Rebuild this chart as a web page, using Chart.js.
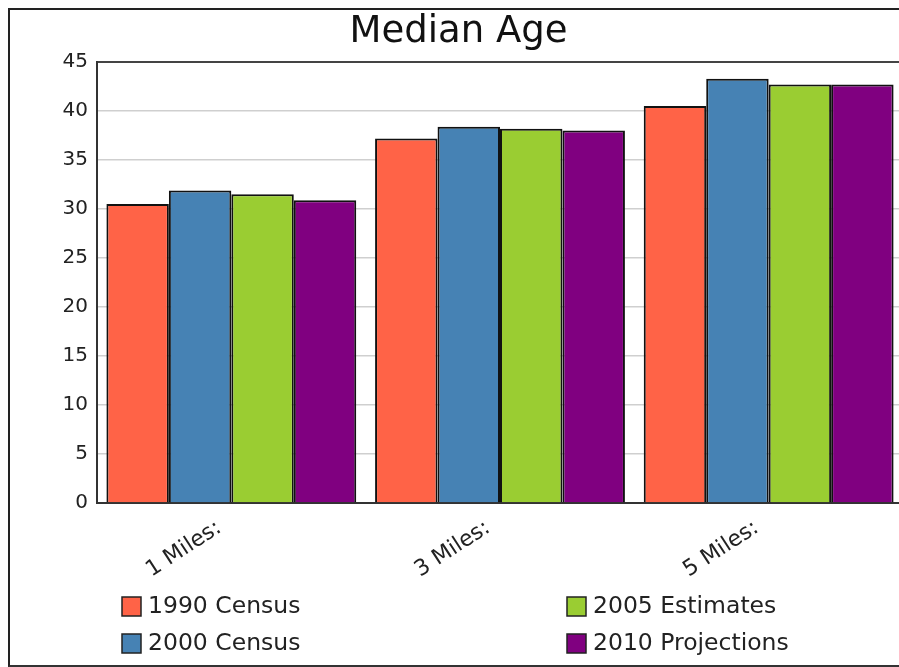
<!DOCTYPE html>
<html>
<head>
<meta charset="utf-8">
<script src="https://cdn.jsdelivr.net/npm/chart.js@4/dist/chart.umd.min.js"></script>
<style>
  html, body { margin:0; padding:0; overflow:hidden; background:#fff; }
  #wrap { position:absolute; left:0; top:0; width:899px; height:667px; overflow:hidden; }
  #graficoEdad { position:absolute; left:0; top:0; }
  #marco { position:absolute; left:8px; top:8px; width:1000px; height:655px; border-top:2px solid #222; border-left:2px solid #222; border-bottom:2px solid #333; pointer-events:none; }
</style>
</head>
<body>
<div id="wrap">
  <canvas id="graficoEdad" width="903" height="667"></canvas>
  <div id="marco"></div>
</div>
<script>
const categorias = ['1 Miles:', '3 Miles:', '5 Miles:'];
const series = ['1990 Census', '2000 Census', '2005 Estimates', '2010 Projections'];
const censo1990 = [30.5, 37.2, 40.5];
const censo2000 = [31.9, 38.4, 43.3];
const estimado2005 = [31.5, 38.2, 42.7];
const proyeccion2010 = [30.9, 38.0, 42.7];
const ticksY = [0, 5, 10, 15, 20, 25, 30, 35, 40, 45];
const colores = ['#ff6347', '#4682b4', '#9acd32', '#800080'];

const fuente = 'DejaVu Sans, Verdana, sans-serif';

// leyenda en dos columnas, como en el original
const leyendaPlugin = {
  id: 'leyenda',
  afterLayout(chart) {
    // el titulo del original esta algo corrido a la derecha
    if (chart.titleBlock) {
      chart.titleBlock.left += 7;
      chart.titleBlock.right += 7;
    }
  },
  afterDraw(chart) {
    const ctx = chart.ctx;
    const cols = [122, 567];
    const filas = [606, 643];
    ctx.save();
    ctx.font = '23.5px ' + fuente;
    ctx.textBaseline = 'middle';
    ctx.textAlign = 'left';
    chart.data.datasets.forEach((ds, i) => {
      const x = cols[Math.floor(i / 2)];
      const y = filas[i % 2];
      ctx.fillStyle = ds.backgroundColor;
      ctx.fillRect(x, y - 9, 19, 19);
      ctx.strokeStyle = '#222';
      ctx.lineWidth = 1.5;
      ctx.strokeRect(x, y - 9, 19, 19);
      ctx.fillStyle = '#222';
      ctx.fillText(ds.label, x + 26, y + 1);
    });
    ctx.restore();
  }
};

const valores = [censo1990, censo2000, estimado2005, proyeccion2010];
const datasets = series.map((s, i) => ({
  label: s,
  data: valores[i],
  backgroundColor: colores[i],
  borderColor: '#111',
  borderWidth: 2,
  categoryPercentage: 0.93,
  barPercentage: 1.0
}));

new Chart(document.getElementById('graficoEdad'), {
  type: 'bar',
  data: { labels: categorias, datasets },
  plugins: [leyendaPlugin],
  options: {
    responsive: false,
    animation: false,
    layout: { padding: { left: 0, right: 0, top: 0, bottom: 0 } },
    plugins: {
      legend: { display: false },
      tooltip: { enabled: false },
      title: {
        display: true,
        text: 'Median Age',
        color: '#111',
        font: { family: fuente, size: 37, weight: 'normal' },
        padding: { top: 10, bottom: 7.6 }
      }
    },
    scales: {
      x: {
        grid: { display: false },
        border: { color: '#333', width: 2 },
        ticks: {
          color: '#222',
          font: { family: fuente, size: 22 },
          minRotation: 33,
          maxRotation: 33,
          labelOffset: -12,
          padding: 4
        },
        afterFit(scale) { scale.height = 164; }
      },
      y: {
        min: 0,
        max: 45,
        afterBuildTicks(scale) { scale.ticks = ticksY.map(v => ({ value: v })); },
        grid: {
          drawTicks: false,
          color: ctx => ctx.tick && ctx.tick.value === 45 ? '#444' : '#cfcfcf',
          lineWidth: ctx => ctx.tick && ctx.tick.value === 45 ? 2 : 1.5
        },
        border: { color: '#333', width: 2 },
        ticks: {
          color: '#222',
          font: { family: fuente, size: 20 },
          padding: 9
        },
        afterFit(scale) { scale.width = 97; }
      }
    }
  }
});
</script>
</body>
</html>
